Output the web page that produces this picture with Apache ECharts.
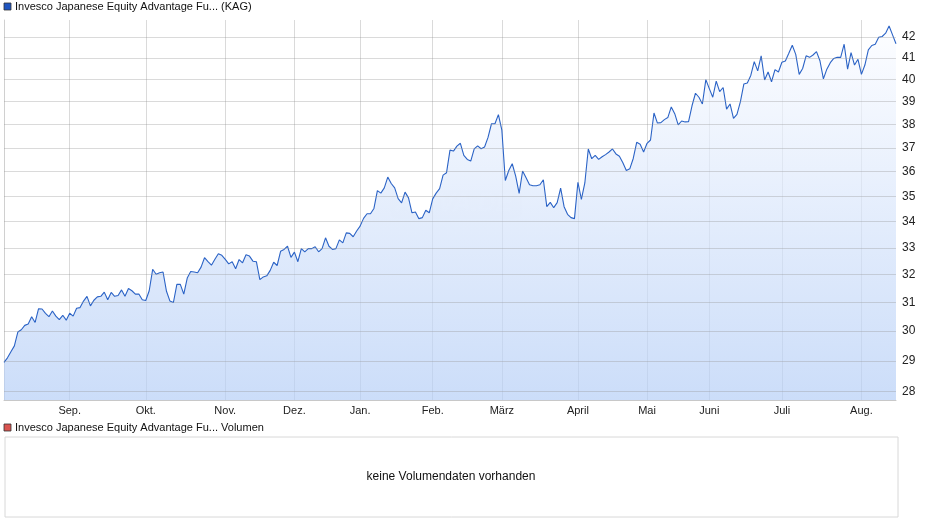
<!DOCTYPE html>
<html><head><meta charset="utf-8">
<script src="https://cdn.jsdelivr.net/npm/echarts@6/dist/echarts.min.js"></script>
<style>html,body{margin:0;padding:0;background:#fff}#c{width:940px;height:526px}</style>
</head><body><div id="c"></div>
<script>
const prices = [
28.95,29.1,29.3,29.5,29.97,30.05,30.2,30.25,30.5,30.3,30.78,30.77,30.62,30.5,30.7,30.52,30.4,30.55,30.38,30.62,
30.52,30.8,30.82,31.05,31.22,30.88,31.08,31.2,31.22,31.37,31.1,31.36,31.22,31.25,31.45,31.22,31.5,31.42,31.3,31.3,
31.1,31.07,31.42,32.2,32.02,32.07,32.1,31.4,31.05,31.0,31.65,31.65,31.3,31.88,32.12,32.1,32.07,32.28,32.63,32.48,
32.35,32.57,32.78,32.72,32.57,
32.4,32.48,32.22,32.56,32.44,32.74,32.69,32.5,32.48,31.82,31.92,31.96,32.16,32.46,32.34,32.87,32.94,33.06,32.64,32.84,
32.48,32.97,32.85,32.97,32.97,33.04,32.85,32.97,33.38,33.06,32.94,32.97,33.3,33.19,33.57,33.55,33.42,33.64,33.83,34.13,
34.31,34.31,34.52,35.23,35.13,35.34,35.78,35.52,35.34,34.91,34.74,35.17,34.94,34.35,34.38,34.12,34.16,34.45,34.35,34.9,
35.13,35.31,35.86,35.96,36.9,36.86,37.07,
37.19,36.68,36.51,36.44,36.95,37.08,36.96,37.03,37.44,38.03,38.03,38.43,37.75,35.64,36.05,36.33,35.82,35.12,36.03,35.75,
35.47,35.43,35.43,35.47,35.67,34.59,34.76,34.55,34.75,35.33,34.59,34.29,34.16,34.12,35.57,34.88,35.54,36.95,36.54,36.68,
36.51,36.62,36.71,36.82,36.95,36.74,36.64,36.37,36.05,36.12,36.55,37.23,37.15,36.82,37.19,37.33,38.5,38.06,38.08,38.21,
38.3,38.77,38.47,37.98,38.15,38.11,38.12,
38.82,39.38,39.2,38.9,40.0,39.59,39.2,39.93,39.45,39.64,38.67,38.9,38.26,38.44,39.0,39.8,39.84,40.19,40.83,40.4,
41.1,39.98,40.35,39.9,40.46,40.35,40.8,40.86,41.22,41.6,41.17,40.24,40.51,41.1,41.03,41.14,41.3,40.87,40.03,40.48,
40.78,40.98,41.03,41.03,41.65,40.48,41.25,40.67,40.94,40.24,40.67,41.38,41.59,41.65,41.98,42.02,42.18,42.53,42.1,41.67
];
const monthLabels = ['Sep.','Okt.','Nov.','Dez.','Jan.','Feb.','März','April','Mai','Juni','Juli','Aug.'];
const monthIdx = [19,41,64,84,103,124,144,166,186,204,225,248];
const yTicks = [28,29,30,31,32,33,34,35,36,37,38,39,40,41,42];

const cats = prices.map((_, i) => { const k = monthIdx.indexOf(i); return k >= 0 ? monthLabels[k] : ''; });
const isTick = (i) => monthIdx.indexOf(i) >= 0;
const ch = echarts.init(document.getElementById('c'));
const F = 'Liberation Sans, Arial, sans-serif';
ch.setOption({
  animation: false,
  grid: {left: 4, right: 44, top: 20, bottom: 126},
  xAxis: {type: 'category', data: cats, boundaryGap: false,
    axisLine: {lineStyle: {color: '#c8c8c8'}}, axisTick: {show: false},
    axisLabel: {interval: isTick, color: '#222', fontFamily: F, fontSize: 11, margin: 5},
    splitLine: {show: true, interval: isTick, lineStyle: {color: 'rgba(150,150,150,0.35)'}}},
  yAxis: {type: 'value', min: Math.log(27.73), max: Math.log(42.82), position: 'left',
    axisLabel: {show: false}, axisTick: {show: false}, axisLine: {show: true, lineStyle: {color: '#d0d0d0'}}, splitLine: {show: false}},
  graphic: [
    {type: 'rect', shape: {x: 390, y: 190, width: 132, height: 29, r: 8}, style: {fill: 'rgba(255,255,255,0.25)'}},
    {type: 'text', x: 395, y: 192, style: {text: 'ARIVA.DE', font: 'italic bold 25px ' + F, fill: 'rgba(255,255,255,0.55)'}},
    {type: 'rect', shape: {x: 4, y: 3, width: 7, height: 7}, style: {fill: '#1f55c0', stroke: '#333', lineWidth: 0.8}},
    {type: 'text', x: 15, y: 1, style: {text: 'Invesco Japanese Equity Advantage Fu... (KAG)', font: '11px ' + F, fill: '#111'}},
    {type: 'rect', shape: {x: 4, y: 424, width: 7, height: 7}, style: {fill: '#d9534f', stroke: '#333', lineWidth: 0.8}},
    {type: 'text', x: 15, y: 422, style: {text: 'Invesco Japanese Equity Advantage Fu... Volumen', font: '11px ' + F, fill: '#111'}},
    {type: 'rect', shape: {x: 5, y: 437, width: 893, height: 80}, style: {fill: '#fff', stroke: '#d8d8d8', lineWidth: 1}},
    {type: 'text', x: 451, y: 477, style: {text: 'keine Volumendaten vorhanden', font: '12px ' + F, fill: '#111', align: 'center', verticalAlign: 'middle'}}
  ],
  series: [{type: 'line', data: prices.map(v => Math.log(v)), symbol: 'none',
    lineStyle: {color: '#2b63c6', width: 1.1},
    areaStyle: {origin: 'start', color: new echarts.graphic.LinearGradient(0, 0, 0, 1, [{offset: 0, color: '#fbfcff'}, {offset: 1, color: '#b5cef6'}])},
    markLine: {symbol: 'none', silent: true, animation: false, precision: 8,
      lineStyle: {color: 'rgba(150,150,150,0.35)', type: 'solid', width: 1},
      label: {position: 'end', distance: 6, color: '#222', fontFamily: F, fontSize: 12, formatter: (p) => String(Math.round(Math.exp(p.value)))},
      data: yTicks.map(k => ({yAxis: Math.log(k)}))}
  }]
});
</script></body></html>
